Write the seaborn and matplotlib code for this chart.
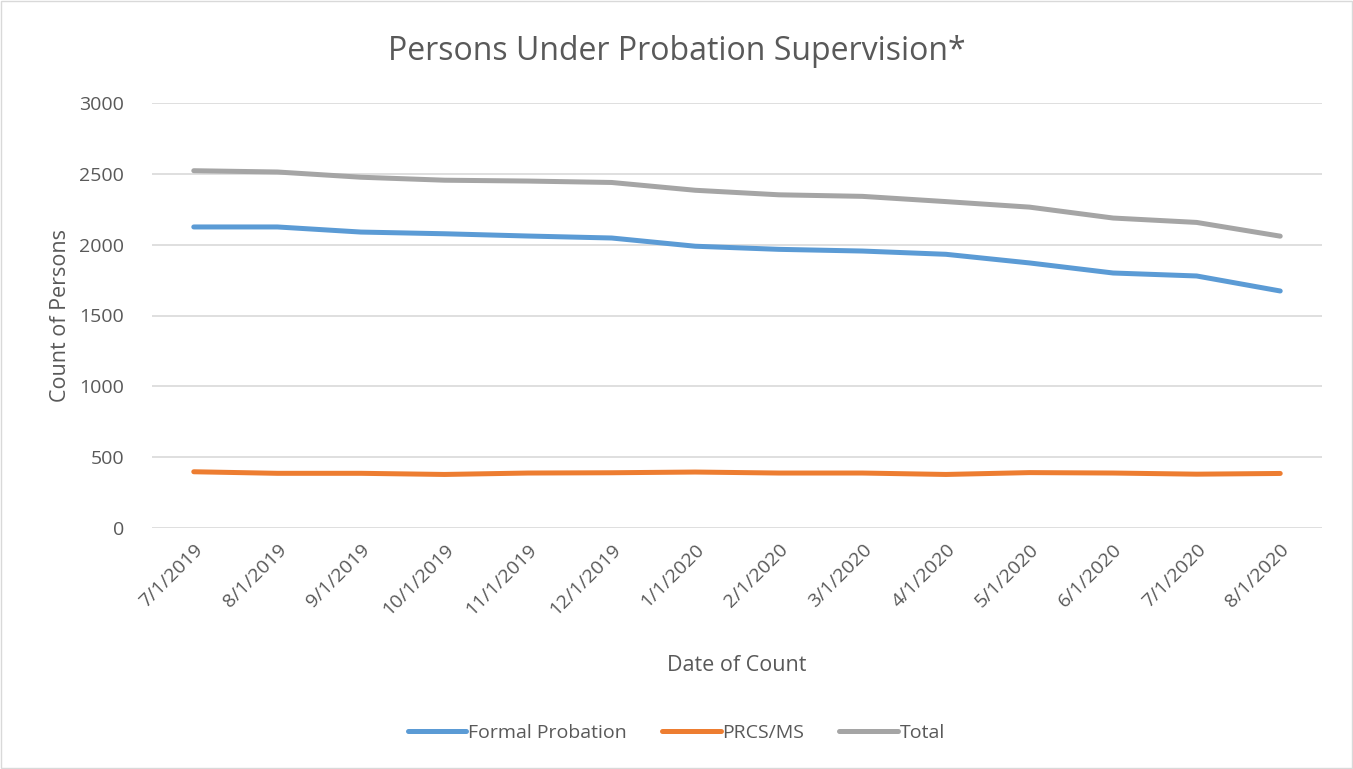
import pandas as pd
import matplotlib.pyplot as plt
import seaborn as sns

# -----------------------------
# Data
# -----------------------------
dates = ["7/1/2019", "8/1/2019", "9/1/2019", "10/1/2019", "11/1/2019", "12/1/2019",
         "1/1/2020", "2/1/2020", "3/1/2020", "4/1/2020", "5/1/2020", "6/1/2020",
         "7/1/2020", "8/1/2020"]
formal_probation = [2125, 2125, 2089, 2077, 2061, 2047, 1989, 1967, 1955, 1932, 1871, 1800, 1779, 1673]
prcs_ms = [397, 386, 386, 378, 388, 390, 395, 388, 388, 378, 391, 388, 380, 385]
total = [2522, 2513, 2476, 2455, 2449, 2439, 2384, 2352, 2341, 2304, 2265, 2188, 2157, 2060]

series_names = ["Formal Probation", "PRCS/MS", "Total"]
colors = ["#5B9BD5", "#ED7D31", "#A5A5A5"]

# long format for seaborn
df = pd.DataFrame({
    "Date": dates * 3,
    "Count": formal_probation + prcs_ms + total,
    "Series": [s for s in series_names for _ in dates],
})
df["x"] = df["Date"].map({d: i for i, d in enumerate(dates)})

# -----------------------------
# Plot
# -----------------------------
sns.set_style("white")
plt.rcParams["font.family"] = ["Open Sans", "DejaVu Sans"]
text_color = "#595959"

fig = plt.figure(figsize=(13.53, 7.69), dpi=100)
ax = fig.add_axes([152 / 1353, 1 - 528 / 769, (1322 - 152) / 1353, (528 - 103) / 769])

sns.lineplot(data=df, x="x", y="Count", hue="Series", palette=colors,
             linewidth=3.6, ax=ax, legend=False, sort=False)
for line in ax.get_lines():
    line.set_solid_capstyle("round")

ax.set_xlim(-0.5, len(dates) - 0.5)
ax.set_ylim(0, 3000)
ax.set_yticks(range(0, 3001, 500))
ax.set_xticks(range(len(dates)))
ax.set_xticklabels(dates, rotation=45, ha="right", rotation_mode="anchor")
ax.tick_params(axis="both", length=0, labelsize=14, colors=text_color)
ax.tick_params(axis="x", pad=9)
ax.tick_params(axis="y", pad=20)

ax.grid(axis="y", color="#D9D9D9", linewidth=1.2)
ax.set_axisbelow(True)
for s in ax.spines.values():
    s.set_visible(False)

ax.set_xlabel("Date of Count", fontsize=15.5, color=text_color, labelpad=26)
ax.set_ylabel("Count of Persons", fontsize=15.5, color=text_color, labelpad=6)
fig.suptitle("Persons Under Probation Supervision*", fontsize=23, color=text_color, y=0.955)

handles = [plt.Line2D([], [], color=c, linewidth=3.6, solid_capstyle="round") for c in colors]
fig.legend(handles, series_names, loc="center", bbox_to_anchor=(0.5, 1 - 733 / 769),
           ncol=3, frameon=False, fontsize=14, handlelength=3.0, handletextpad=0.1,
           columnspacing=1.8, labelcolor=text_color)

# light border round the chart area
fig.patches.append(plt.Rectangle((0.001, 0.001), 0.998, 0.998, transform=fig.transFigure,
                                 fill=False, edgecolor="#D9D9D9", linewidth=1))

fig.savefig("out.png", dpi=100)
